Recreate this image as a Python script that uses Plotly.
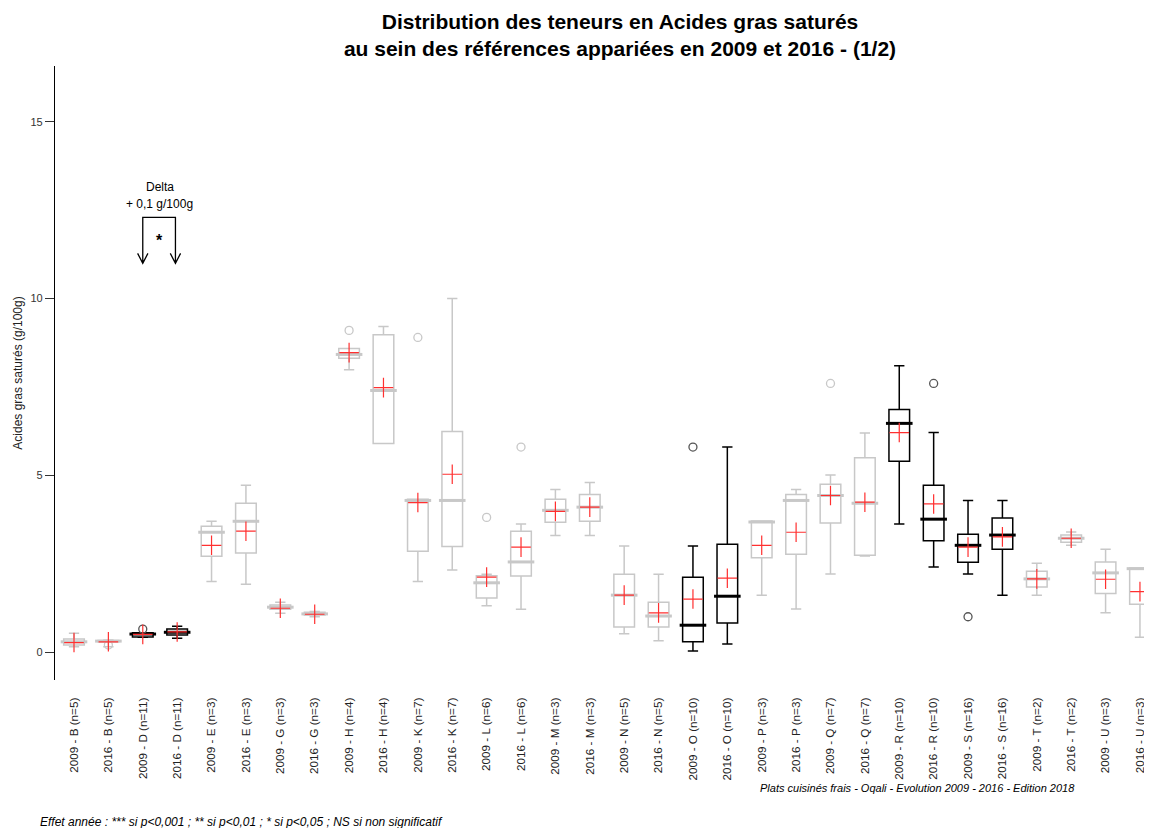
import plotly.graph_objects as go

# categories (paired references, 2009 / 2016)
labels = ['2009 - B (n=5)', '2016 - B (n=5)', '2009 - D (n=11)', '2016 - D (n=11)',
          '2009 - E (n=3)', '2016 - E (n=3)', '2009 - G (n=3)', '2016 - G (n=3)',
          '2009 - H (n=4)', '2016 - H (n=4)', '2009 - K (n=7)', '2016 - K (n=7)',
          '2009 - L (n=6)', '2016 - L (n=6)', '2009 - M (n=3)', '2016 - M (n=3)',
          '2009 - N (n=5)', '2016 - N (n=5)', '2009 - O (n=10)', '2016 - O (n=10)',
          '2009 - P (n=3)', '2016 - P (n=3)', '2009 - Q (n=7)', '2016 - Q (n=7)',
          '2009 - R (n=10)', '2016 - R (n=10)', '2009 - S (n=16)', '2016 - S (n=16)',
          '2009 - T (n=2)', '2016 - T (n=2)', '2009 - U (n=3)', '2016 - U (n=3)']

# significant year effect -> black boxes
signif = [False, False, True, True, False, False, False, False,
          False, False, False, False, False, False, False, False,
          False, False, True, True, False, False, False, False,
          True, True, True, True, False, False, False, False]

lower = [0.15, 0.15, 0.42, 0.39, 2.0, 1.92, 1.1, 1.0,
         7.99, 5.9, 2.0, 2.32, 1.31, 1.21, 3.3, 3.3,
         0.52, 0.32, 0.03, 0.23, 1.61, 1.22, 2.21, 2.72,
         3.62, 2.41, 2.21, 1.61, 1.61, 3.02, 1.11, 0.42]
q1 = [0.2, 0.29, 0.43, 0.48, 2.71, 2.8, 1.21, 1.05,
      8.31, 5.9, 2.85, 2.99, 1.53, 2.15, 3.67, 3.7,
      0.71, 0.71, 0.29, 0.82, 2.67, 2.77, 3.65, 2.74,
      5.4, 3.15, 2.54, 2.91, 1.84, 3.11, 1.66, 1.35]
median = [0.29, 0.31, 0.51, 0.56, 3.39, 3.7, 1.27, 1.08,
          8.42, 7.4, 4.29, 4.29, 1.96, 2.55, 4.01, 4.1,
          1.61, 1.02, 0.76, 1.58, 3.68, 4.29, 4.43, 4.21,
          6.47, 3.76, 3.02, 3.31, 2.07, 3.22, 2.24, 2.36]
q3 = [0.37, 0.33, 0.55, 0.65, 3.56, 4.21, 1.33, 1.13,
      8.59, 8.98, 4.32, 6.24, 2.16, 3.42, 4.32, 4.46,
      2.2, 1.41, 2.12, 3.05, 3.71, 4.46, 4.75, 5.5,
      6.86, 4.72, 3.33, 3.79, 2.29, 3.31, 2.55, 2.38]
upper = [0.53, 0.34, 0.55, 0.73, 3.7, 4.72, 1.41, 1.15,
         8.59, 9.21, 4.32, 10.0, 2.2, 3.62, 4.6, 4.8,
         3.0, 2.2, 3.0, 5.8, 3.71, 4.6, 5.01, 6.2,
         8.1, 6.21, 4.29, 4.29, 2.51, 3.4, 2.91, 2.38]
means = [0.27, 0.29, 0.5, 0.57, 3.02, 3.42, 1.24, 1.07,
         8.47, 7.48, 4.23, 5.03, 2.12, 2.97, 3.98, 4.1,
         1.61, 1.11, 1.5, 2.09, 3.02, 3.39, 4.43, 4.24,
         6.21, 4.19, 2.97, 3.26, 2.07, 3.22, 2.06, 1.71]

outlier_idx = [1, 2, 8, 10, 12, 13, 18, 22, 25, 26]
outlier_val = [0.2, 0.65, 9.1, 8.9, 3.81, 5.8, 5.8, 7.6, 7.6, 1.0]

pos = list(range(len(labels)))
GRAY = '#c8c8c8'

fig = go.Figure()

for flag, col in [(False, GRAY), (True, 'black')]:
    ix = [i for i in pos if signif[i] == flag]
    fig.add_trace(go.Box(
        x=ix,
        q1=[q1[i] for i in ix], median=[median[i] for i in ix], q3=[q3[i] for i in ix],
        lowerfence=[lower[i] for i in ix], upperfence=[upper[i] for i in ix],
        width=0.6, whiskerwidth=0.5,
        line=dict(color=col, width=1.5), fillcolor='rgba(0,0,0,0)',
        boxpoints=False, showlegend=False, hoverinfo='skip'
    ))
    # thick median line
    fig.add_trace(go.Scatter(
        x=ix, y=[median[i] for i in ix], mode='markers',
        marker=dict(symbol='line-ew', size=19, line=dict(color=col, width=3)),
        showlegend=False, hoverinfo='skip'
    ))
    oi = [k for k in range(len(outlier_idx)) if signif[outlier_idx[k]] == flag]
    fig.add_trace(go.Scatter(
        x=[outlier_idx[k] for k in oi], y=[outlier_val[k] for k in oi], mode='markers',
        marker=dict(symbol='circle-open', size=8,
                    color=GRAY if not flag else '#555555', line=dict(width=1.3)),
        showlegend=False, hoverinfo='skip'
    ))

# means
fig.add_trace(go.Scatter(
    x=pos, y=means, mode='markers',
    marker=dict(symbol='cross-thin', size=14, line=dict(color='#ff3030', width=1.2)),
    showlegend=False, hoverinfo='skip'
))

# delta bracket for D
xa, xb = 2, 2.95
fig.add_shape(type='path', xref='x', yref='y',
              path=f'M {xa},11.0 L {xa},12.3 L {xb},12.3 L {xb},11.0 '
                   f'M {xa-0.15},11.28 L {xa},11.0 L {xa+0.15},11.28 '
                   f'M {xb-0.15},11.28 L {xb},11.0 L {xb+0.15},11.28',
              line=dict(color='black', width=1.3))
fig.add_annotation(x=2.5, y=13.15, text='Delta', showarrow=False,
                   font=dict(size=12, color='black'))
fig.add_annotation(x=2.5, y=12.68, text='+ 0,1 g/100g', showarrow=False,
                   font=dict(size=12, color='black'))
fig.add_annotation(x=2.5, y=11.65, text='<b>*</b>', showarrow=False,
                   font=dict(size=16, color='black'))

fig.add_annotation(xref='paper', yref='paper', x=0.7858, y=-0.1759,
                   xanchor='center', yanchor='middle',
                   text='<i>Plats cuisinés frais - Oqali - Evolution 2009 - 2016 - Edition 2018</i>',
                   showarrow=False, font=dict(size=11, color='black'))
fig.add_annotation(xref='paper', yref='paper', x=-0.0155, y=-0.2313,
                   xanchor='left', yanchor='middle',
                   text='<i>Effet année : *** si p<0,001 ; ** si p<0,01 ; * si p<0,05 ; NS si non significatif</i>',
                   showarrow=False, font=dict(size=12, color='black'))

# the page body adds 8px around the figure, so it is sized to fit inside the window
fig.update_layout(
    width=1144, height=820,
    margin=dict(l=47, r=0, t=58, b=148),
    paper_bgcolor='white', plot_bgcolor='white',
    font=dict(family='Liberation Sans, Arial, sans-serif', color='#222222'),
    title=dict(text='<b>Distribution des teneurs en Acides gras saturés<br>'
                    'au sein des références appariées en 2009 et 2016 - (1/2)</b>',
               x=612 / 1144, xanchor='center', y=0.9744, yanchor='middle',
               font=dict(size=21, color='black')),
    boxmode='overlay',
    xaxis=dict(range=[-0.5525, 31.35], tickvals=pos, ticktext=labels, tickangle=-90,
               showgrid=False, zeroline=False, showline=False, automargin=False,
               ticks='outside', ticklen=12, tickcolor='rgba(0,0,0,0)',
               tickfont=dict(size=11.7, color='#222222')),
    yaxis=dict(range=[-0.79, 16.58], tickvals=[0, 5, 10, 15], automargin=False,
               showgrid=False, zeroline=False, showline=True, linecolor='black',
               linewidth=1.3, ticks='outside', ticklen=9, tickcolor='#333333',
               tickfont=dict(size=11, color='#333333'),
               title=dict(text='Acides gras saturés (g/100g)', standoff=5,
                          font=dict(size=12, color='#222222'))),
)

fig.write_html('out.html')
